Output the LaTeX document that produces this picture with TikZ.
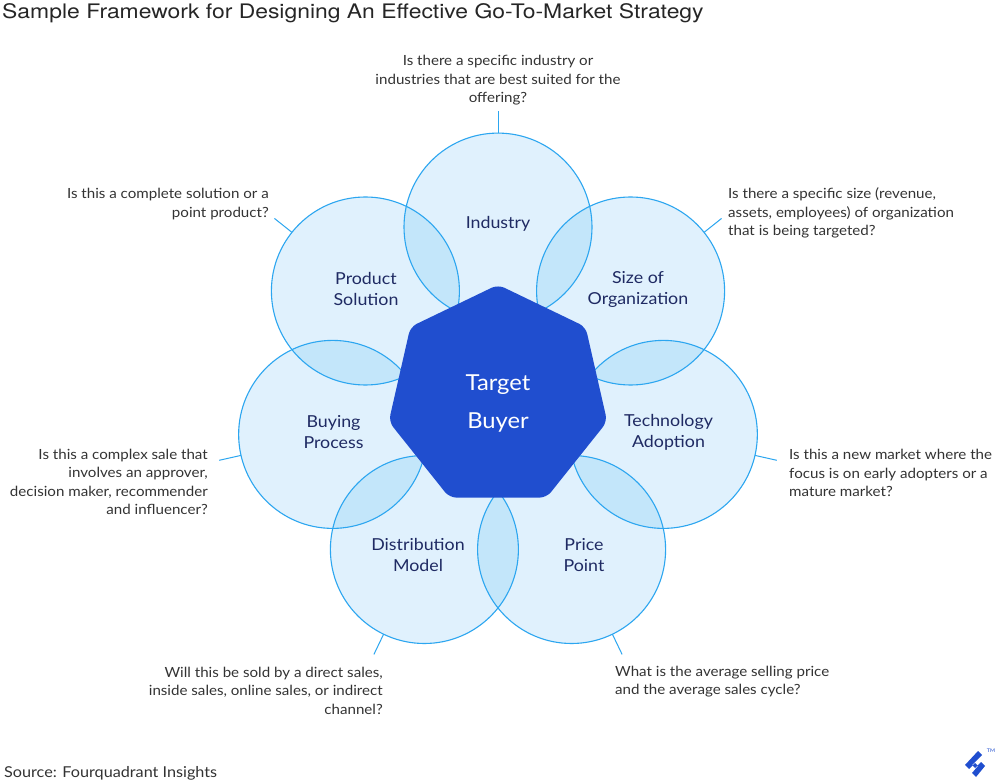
\documentclass[tikz,border=0pt]{standalone}
\usepackage{fontspec}
\setmainfont{Lato}[FakeStretch=1.08]
\newfontfamily\titlefont{TeX Gyre Heros}[FakeStretch=1.145]
\usetikzlibrary{calc}
\definecolor{bubfill}{HTML}{E0F1FD}
\definecolor{lensfill}{HTML}{C3E6FA}
\definecolor{bubline}{HTML}{2CA6F0}
\definecolor{heptblue}{HTML}{204ECF}
\definecolor{lbltext}{HTML}{1F2A63}
\definecolor{qtext}{HTML}{333333}
\tikzset{
  bub/.style={circle, draw=bubline, line width=1.1pt, minimum size=188pt, inner sep=0pt},
  lbl/.style={text=lbltext, align=center, font=\fontsize{16.5}{21}\selectfont, inner sep=0pt},
  qst/.style={text=qtext, font=\fontsize{14}{18.5}\selectfont, inner sep=0pt},
  leader/.style={draw=bubline, line width=1pt},
}
\begin{document}
\begin{tikzpicture}[x=1pt,y=-1pt]
\useasboundingbox (0,0) rectangle (997,783);
\fill[white] (0,0) rectangle (997,783);
% circle centres
\coordinate (c0) at (498,227.1);
\coordinate (c1) at (630.6,291.0);
\coordinate (c2) at (663.35,434.4);
\coordinate (c3) at (571.6,549.5);
\coordinate (c4) at (424.4,549.5);
\coordinate (c5) at (332.65,434.4);
\coordinate (c6) at (365.4,291.0);
% fills
\foreach \k in {0,...,6}{\fill[bubfill] (c\k) circle (94);}
% lenses
\foreach \a/\b in {0/1,1/2,2/3,3/4,4/5,5/6,6/0}{
  \begin{scope}
    \clip (c\a) circle (94);
    \fill[lensfill] (c\b) circle (94);
  \end{scope}
}
% outlines
\foreach \k in {0,...,6}{\node[bub] (n\k) at (c\k) {};}
% heptagon
\fill[heptblue, rounded corners=7pt] (498,497.6) -- (546.6,497.6) -- (607.2,421.6) -- (585.6,326.9) -- (498,284.7) -- (410.4,326.9) -- (388.8,421.6) -- (449.4,497.6) -- cycle;
\node[text=white, align=center, font=\fontsize{22}{38}\selectfont, inner sep=0pt] (tb) at (498,404) {Target\\Buyer};
% labels
\node[lbl] (l0) at (498,223.5) {Industry};
\node[lbl] (l1) at (638,289) {Size of\\Organization};
\node[lbl] (l2) at (668.5,432) {Technology\\Adoption};
\node[lbl] (l3) at (584,555) {Price\\Point};
\node[lbl] (l4) at (418,555) {Distribution\\Model};
\node[lbl] (l5) at (333.5,432) {Buying\\Process};
\node[lbl] (l6) at (366,289) {Product\\Solution};
% leader coordinates
\coordinate (a0) at (498,133.1);   \coordinate (b0) at (498,110.7);
\coordinate (a1) at (704.1,232.35); \coordinate (b1) at (721.6,218.4);
\coordinate (a2) at (755.0,455.4);  \coordinate (b2) at (776.8,460.3);
\coordinate (a3) at (612.4,634.2);  \coordinate (b3) at (622.1,654.4);
\coordinate (a4) at (383.6,634.2);  \coordinate (b4) at (373.9,654.4);
\coordinate (a5) at (241.0,455.4);  \coordinate (b5) at (219.2,460.3);
\coordinate (a6) at (291.9,232.35); \coordinate (b6) at (274.4,218.4);
\foreach \k in {0,...,6}{\draw[leader] (a\k) -- (b\k);}
% questions
\node[qst, align=center] (q0) at (498,80.5) {Is there a specific industry or\\industries that are best suited for the\\offering?};
\node[qst, align=left, anchor=west] (q1) at (728,213) {Is there a specific size (revenue,\\assets, employees) of organization\\that is being targeted?};
\node[qst, align=left, anchor=west] (q2) at (789,473) {Is this a new market where the\\focus is on early adopters or a\\mature market?};
\node[qst, align=left, anchor=west] (q3) at (615,681.5) {What is the average selling price\\and the average sales cycle?};
\node[qst, align=right, anchor=east] (q4) at (383,690.5) {Will this be sold by a direct sales,\\inside sales, online sales, or indirect\\channel?};
\node[qst, align=right, anchor=east] (q5) at (208,482) {Is this a complex sale that\\involves an approver,\\decision maker, recommender\\and influencer?};
\node[qst, align=right, anchor=east] (q6) at (269,204) {Is this a complete solution or a\\point product?};
% title and source
\node[anchor=west, inner sep=0pt, text=black!85, font=\titlefont\fontsize{20}{24}\selectfont] (title) at (2,13) {Sample Framework for Designing An Effective Go-To-Market Strategy};
\node[anchor=west, inner sep=0pt, text=qtext, font=\fontsize{15}{18}\selectfont] (src) at (4,773) {Source: Fourquadrant Insights};
% logo
\fill[heptblue] (978,751) -- (982,755) -- (972,765) -- (975,768) -- (981,762) -- (985,766) -- (976,777) -- (972,773) -- (978,766) -- (975,763) -- (969,769) -- (965,765) -- cycle;
\node[inner sep=0pt, text=heptblue, font=\fontsize{5}{5}\selectfont] (tm) at (991,751) {TM};
\end{tikzpicture}
\end{document}
